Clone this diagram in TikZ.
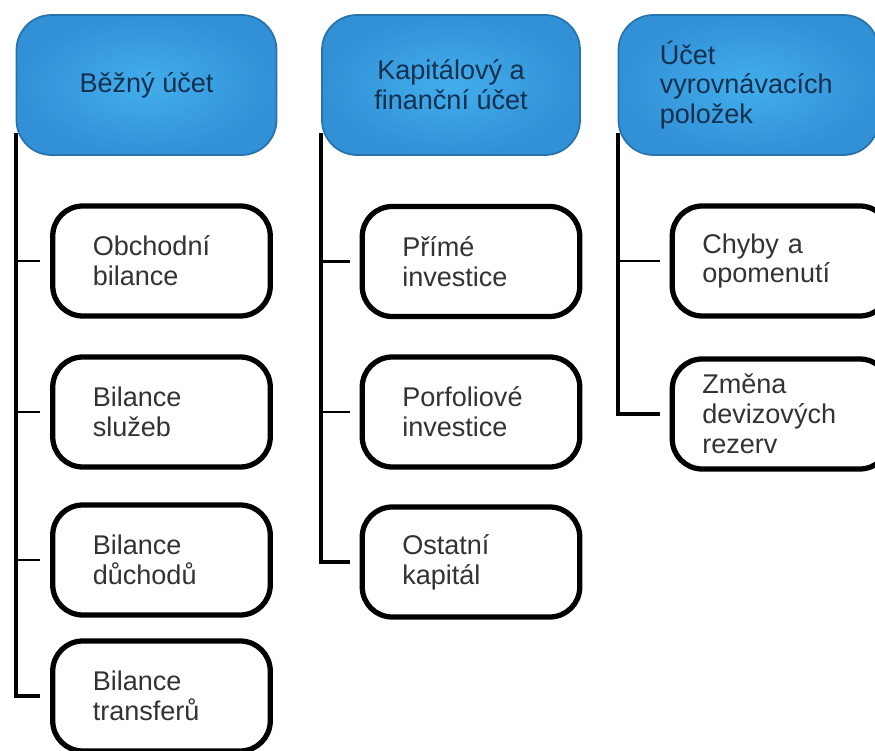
\documentclass[tikz,border=0pt]{standalone}
\usepackage{fontspec}
\setmainfont{Liberation Sans}
\usetikzlibrary{backgrounds}

\definecolor{headblue}{HTML}{3290D6}
\definecolor{headlight}{HTML}{42AEEC}
\definecolor{headtext}{HTML}{14304E}
\definecolor{itemtext}{HTML}{333333}

\tikzset{
  header/.style={rounded corners=0.7cm, minimum width=5.2cm, minimum height=2.8cm,
    inner color=headlight, outer color=headblue, draw=headblue!80!black, line width=1pt,
    text=headtext, align=center, font=\fontsize{15.4}{17}\selectfont},
  item/.style={rounded corners=0.6cm, draw=black, line width=3pt, fill=white,
    minimum height=2.2cm, text width=2.75cm, inner xsep=0.8cm, align=left,
    text=itemtext, font=\fontsize{15.4}{17}\selectfont},
  spine/.style={line width=2.2pt},
  tick/.style={line width=1.6pt, shorten >=0.2cm}
}

\begin{document}
\begin{tikzpicture}
    % Page frame
    \clip (0,0) rectangle (17.5,-15.02);

    % Header boxes
    \node[header] (h1) at (2.93,-1.70) {Běžný účet};
    \node[header, minimum width=5.16cm] (h2) at (9.02,-1.70) {Kapitálový a\\finanční účet};
    \node[header, align=left, text width=3.55cm, inner xsep=0.75cm] (h3) at (14.97,-1.70)
        {Účet\\vyrovnávacích\\položek};

    % Items of the current account
    \node[item] (b11) at (3.23,-5.22) {Obchodní\\bilance};
    \node[item] (b12) at (3.23,-8.24) {Bilance\\služeb};
    \node[item] (b13) at (3.23,-11.20) {Bilance\\důchodů};
    \node[item] (b14) at (3.23,-13.92) {Bilance\\transferů};

    % Items of the capital and financial account
    \node[item] (b21) at (9.42,-5.23) {Přímé\\investice};
    \node[item] (b22) at (9.42,-8.24) {Porfoliové\\investice};
    \node[item] (b23) at (9.42,-11.24) {Ostatní\\kapitál};

    % Items of the balancing account
    \node[item, text width=3.15cm, inner xsep=0.6cm] (b31) at (15.62,-5.22) {Chyby a\\opomenutí};
    \node[item, text width=3.15cm, inner xsep=0.6cm] (b32) at (15.62,-8.28) {Změna\\devizových\\rezerv};

    % Starting points of the spines, just under the header corners
    \coordinate (s1) at ([yshift=0.45cm]h1.south west);
    \coordinate (s2) at ([yshift=0.45cm]h2.south west);
    \coordinate (s3) at ([yshift=0.45cm]h3.south west);

    % Connecting lines behind the boxes
    \begin{scope}[on background layer]
        \draw[spine, shorten >=0.2cm] (s1) |- (b14.west);
        \draw[tick] (s1 |- b11.west) -- (b11.west);
        \draw[tick] (s1 |- b12.west) -- (b12.west);
        \draw[tick] (s1 |- b13.west) -- (b13.west);

        \draw[spine, shorten >=0.2cm] (s2) |- (b23.west);
        \draw[tick] (s2 |- b21.west) -- (b21.west);
        \draw[tick] (s2 |- b22.west) -- (b22.west);

        \draw[spine, shorten >=0.2cm] (s3) |- (b32.west);
        \draw[tick] (s3 |- b31.west) -- (b31.west);
    \end{scope}
\end{tikzpicture}
\end{document}
